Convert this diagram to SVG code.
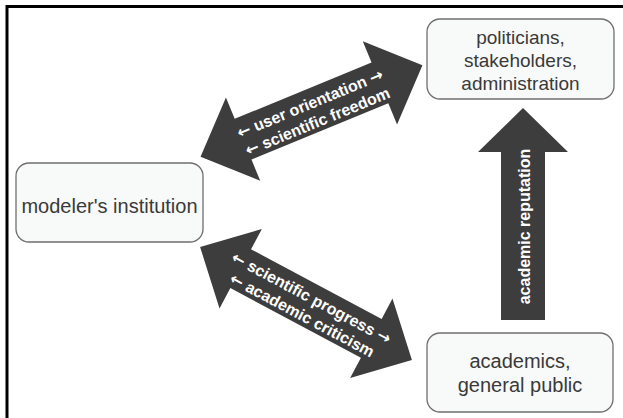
<svg xmlns="http://www.w3.org/2000/svg" width="623" height="418" viewBox="0 0 623 418">
<style>
.box{fill:#f8f9f9;stroke:#6f6f6f;stroke-width:1.3}
.lbl{font-family:"Liberation Sans",Arial,sans-serif;fill:#3a3a3a;text-anchor:middle}
.arr{fill:#3d3d3d}
.atxt{font-family:"Liberation Sans","DejaVu Sans",sans-serif;font-weight:bold;font-size:16px;fill:#ffffff;text-anchor:middle}
.ar{font-family:"DejaVu Sans",sans-serif;font-weight:bold}
</style>
<defs>
<polygon id="dbl" points="-120,0 -74,-45 -74,-22 74,-22 74,-45 120,0 74,45 74,22 -74,22 -74,45"/>
</defs>
<rect x="0" y="0" width="623" height="418" fill="#ffffff"/>
<rect x="7" y="6.5" width="700" height="500" fill="none" stroke="#000000" stroke-width="3"/>
<g id="connectors">
<g id="conn-upper" transform="translate(311.5,111) rotate(-22.4)">
<use href="#dbl" class="arr"/>
<text class="atxt" x="1.5" y="-2"><tspan class="ar">←</tspan> user orientation <tspan class="ar">→</tspan></text>
<text class="atxt" x="1.5" y="17.5"><tspan class="ar">←</tspan> scientific freedom</text>
</g>
<g id="conn-lower" transform="translate(306,303.5) rotate(28.06)">
<use href="#dbl" class="arr"/>
<text class="atxt" x="2" y="-2"><tspan class="ar">←</tspan> scientific progress <tspan class="ar">→</tspan></text>
<text class="atxt" x="2" y="17.5"><tspan class="ar">←</tspan> academic criticism</text>
</g>
<g id="conn-up">
<polygon class="arr" points="523,108 568,152 545,152 545,320 501,320 501,152 478,152"/>
<text class="atxt" transform="translate(530,226.5) rotate(-90)">academic reputation</text>
</g>
</g>
<g id="node-politicians">
<rect class="box" x="427" y="19" width="187" height="80" rx="13"/>
<text class="lbl" font-size="19" x="520.5" y="43.5">politicians,</text>
<text class="lbl" font-size="19" x="520.5" y="66.5">stakeholders,</text>
<text class="lbl" font-size="19" x="520.5" y="89.5">administration</text>
</g>
<g id="node-modeler">
<rect class="box" x="16" y="163" width="187" height="79" rx="13"/>
<text class="lbl" font-size="20" x="109.5" y="213">modeler's institution</text>
</g>
<g id="node-academics">
<rect class="box" x="427" y="333" width="186" height="79" rx="13"/>
<text class="lbl" font-size="20" x="520" y="368">academics,</text>
<text class="lbl" font-size="20" x="520" y="392">general public</text>
</g>
</svg>
